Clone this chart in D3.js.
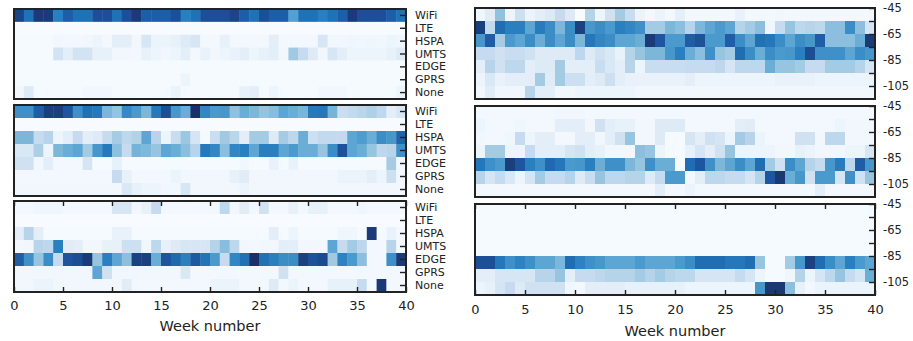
<!DOCTYPE html>
<html>
<head>
<meta charset="utf-8">
<script src="https://cdn.jsdelivr.net/npm/d3@7"></script>
<style>
  html, body { margin: 0; padding: 0; background: #ffffff; }
  svg { display: block; }
  text { font-family: "DejaVu Sans", sans-serif; fill: #222; }
</style>
</head>
<body>
<svg id="chart" width="913" height="341"></svg>
<script>
// ---------- data ----------
const weeks = [0,1,2,3,4,5,6,7,8,9,10,11,12,13,14,15,16,17,18,19,20,21,22,23,24,25,26,27,28,29,30,31,32,33,34,35,36,37,38,39];
const weekTicks = [0,5,10,15,20,25,30,35,40];
const netTypes = ["WiFi","LTE","HSPA","UMTS","EDGE","GPRS","None"];
const rssiBins = [-45,-55,-65,-75,-85,-95,-105];   // upper edge of each 10 dBm bin
const rssiTicks = [-45,-55,-65,-75,-85,-95,-105];
const rssiLabels = [-45,-65,-85,-105];

// colour ramp (value on 0-10 scale -> colour)
const rampStops  = [0, 1, 2.2, 3.4, 5, 5.5, 6.2, 7, 7.5, 8.2, 9, 10];
const rampColors = ["#f7fbff","#e3eef8","#c6dbef","#a3cbe3","#7cb7da","#6aaed6","#4b9acd","#2a7fbf","#2171b5","#1e55a0","#1b4585","#19306a"];

// share of time per network type and week (0-10 scale), three users
const netUser1 = [
  [9,7.5,9.5,9.5,7,8,7.5,7.5,8.5,8.5,7.5,8.5,9.5,8,8,8,8.5,7,7.5,8.5,8.5,8.5,9,8,7.5,8.5,8,8,6,7.5,7.5,7,7.5,8,9.5,8.5,8.5,8.5,8,7.5],
  [0,0,0,0,0,0,0,0,0,0,0,0,0,0,0,0,0,0,0,0,0,0,0,0,0,0,0,0,0,0,0,0,0,0,0,0,0,0,0,0],
  [0.1,0.1,0.1,0.1,0.3,0.2,0.2,0.3,0.5,0.2,1,1,0.3,1.5,0.6,0.6,0.8,1.2,1.5,0.2,0.2,0.8,0.2,0.2,0.2,0.2,1,0.2,0.2,0.2,0.2,1.5,0.3,0.3,0.4,0.3,0.4,0.3,0.5,0.4],
  [0.1,0.1,0.1,0.1,1.7,1,1.7,1.7,0.8,0.8,0.3,0.3,0.2,0.8,0.5,0.3,0.5,1,0.2,0.7,0.3,0.5,0.7,1,0.5,0.8,1,0.3,3.5,2.2,1.2,0.3,1.5,1,0.5,0.5,0.5,0.5,0.8,1.2],
  [0.1,0.1,0.1,0.1,0.1,0.1,0.1,0.1,0.1,0.1,0.1,0.1,0.1,0.1,0.1,0.1,0.1,0.1,0.1,0.1,0.1,0.1,0.1,0.1,0.1,0.1,0.1,0.1,0.1,0.1,0.1,0.1,0.1,0.1,0.1,0.1,0.1,0.1,0.1,0.1],
  [0.1,0.1,0.1,0.1,0.1,0.1,0.1,0.1,0.1,0.1,0.1,0.1,0.1,0.1,0.1,0.1,0.1,0.5,0.1,0.1,0.1,0.1,0.1,0.1,0.1,0.1,0.1,0.1,0.1,0.1,0.1,0.1,0.1,0.1,0.1,0.1,0.1,0.1,0.1,0.1],
  [0.3,1.2,0.1,0.1,0.1,0.1,0.1,0.3,0.3,0.3,0.1,0.1,0.1,0.1,0.1,0.1,0.6,0.1,0.1,0.1,0.1,0.1,0.1,0.8,1,0.1,0.5,0.1,0.1,0.1,0.1,0.3,0.3,0.3,0.1,0.1,0.1,0.1,0.1,0.5]
];
const netUser2 = [
  [6.5,6.5,8,9.3,9.3,8.2,6.5,7.5,7.2,5,4,6.7,6.2,5,7.2,8.5,6.3,5.5,10,6.8,6.2,6.3,4.2,5.5,5,4,4.5,5.8,5.5,5.1,7.2,7.3,5.2,2,2.3,2.6,3,2.4,1,1.5],
  [0,0,0,0,0,0,0,0,0,0,0,0,0,0,0,0,0,0,0,0,0,0,0,0,0,0,0,0,0,0,0,0,0,0,0,0,0,0,0,0],
  [5,5,2.2,2.7,0.5,1,2.2,1,1.2,2.2,3.3,2.5,2.9,5.8,2.7,0.5,2.1,3.7,1.6,0.1,2,3.5,2.6,1,3.4,3.4,1.2,3.3,2.5,5.5,1.9,2.3,2.3,2.3,5.8,6.1,5.5,6.6,6.3,7.8],
  [1.4,1.4,3.1,0.5,5,5.5,5.8,3.4,6.3,7.2,4.3,2.2,5.2,4.9,3.9,5.8,5.5,4.4,2.7,7.2,6.8,4.4,6.8,7,5.8,7,7,5.8,6.2,5.5,5.5,3.9,6.6,8.4,5.8,5.5,3.9,2.5,2.7,6.5],
  [1.8,1.8,0.3,1,0.2,0.2,0.2,1.6,0.1,0.1,0.8,0.1,0.1,0.1,0.1,0.1,0.1,0.1,0.1,0.1,0.1,0.1,0.1,0.3,0.1,0.1,0.7,0.1,0.7,0.1,0.1,0.1,0.1,0.1,0.1,0.1,0.1,0.1,3.3,0.2],
  [0.2,0.2,0.2,0.2,0.2,0.2,0.2,0.2,0.2,0.2,2.2,0.8,0.2,0.2,0.2,0.2,0.6,0.3,0.3,0.3,0.3,0.3,0.8,1.1,0.3,0.3,0.3,0.3,0.3,0.3,0.3,0.3,0.3,0.6,0.6,0.6,1,0.5,1.9,0.3],
  [0.3,0.3,0.3,0.3,0.3,0.3,0.3,0.3,0.3,0.3,0.3,1.4,0.8,0.5,0.5,0.3,0.3,1.5,0.3,0.3,0.3,0.3,0.3,0.6,0.3,0.3,0.3,0.3,0.3,0.3,0.3,0.3,0.3,0.3,0.3,0.3,0.3,0.3,0.3,0.3]
];
const netUser3 = [
  [0.2,0.2,0.4,0.4,0.4,0.2,0.2,0.2,0.2,0.2,1.5,1.5,0.3,0.8,2.2,0.2,0.2,0.2,0.2,0.2,0.3,2.5,0.3,1.1,0.2,1.8,0.2,0.2,0.8,0.2,0.8,0.8,0.2,0.2,0.2,0.4,0.2,0.2,0.2,0.2],
  [0,0,0,0,0,0,0,0,0,0,0,0,0,0,0,0,0,0,0,0,0,0,0,0,0,0,0,0,0,0,0,0,0,0,0,0,0,0,0,0],
  [1,2.7,1,0.1,0.1,0.1,0.1,0.1,0.1,0.1,0.7,0.7,0.1,0.1,0.1,0.1,0.1,0.1,0.1,0.1,0.1,0.1,0.1,0.1,0.1,0.1,1,0.1,0.5,0.1,0.1,0.1,0.1,0.4,0.4,0.1,9.5,0.1,0.7,0.2],
  [0.2,0.3,2.7,2.5,7,1.1,1,0.3,0.3,0.8,0.8,1.9,1.9,0.4,2.5,0.8,1.2,1.5,1.5,1.5,2.8,4.5,2.5,0.3,0.2,0.3,0.3,1,1,0.3,0.3,0.3,5.8,2.2,3.4,2.5,0.2,0.2,2.7,0.2],
  [8,6.5,3.9,6.6,2.2,8.3,8.6,9.5,3.9,7,5.8,4.4,9.2,9.2,5.5,8.3,7.7,7,8.1,7.4,6.2,2.2,6.8,7.5,10,7.5,7,6.6,6.6,9.2,8.4,8.7,3.5,6.9,6.2,4.4,0.2,0.2,6.5,9.5],
  [0.3,0.3,0.3,0.3,0.3,0.3,0.3,0.3,5.8,1.8,0.3,0.3,0.3,0.3,0.3,0.3,0.3,1.4,0.2,0.2,0.2,0.2,0.2,0.2,0.2,0.2,0.2,1.8,0.2,0.2,0.2,0.2,0.2,0.2,0.2,0.2,0.2,0.2,0.2,0.2],
  [0.3,0.3,0.6,0.6,0.3,0.3,0.3,0.3,0.3,0.3,0.3,1.1,0.2,0.2,0.2,0.2,0.2,0.2,0.2,0.2,0.6,0.6,0.6,0.2,0.2,0.2,1.2,0.2,0.6,0.2,0.2,0.2,0.8,0.8,0.8,2.2,0.2,9.6,0.2,0.2]
];

// share of time per signal-strength bin (dBm) and week (0-10 scale), three users
const rssiUser1 = [
  [0.4,1.1,4.2,0.5,1.9,0.6,1,1.3,2.2,1.3,0,2.8,0.5,1.8,3.4,2.1,0.6,0.2,0.6,0.2,0.9,0.2,0.2,0.2,0.2,0.2,0.7,0.2,0.2,0.2,0.3,0.2,0.2,0.2,0.2,0.2,0.2,0.2,0.2,0.2],
  [9.3,2.3,7.6,7,7,5.8,7.1,6.6,5,6.6,9.2,6.3,6.6,6.2,7,6.8,6.5,3.4,3.4,5,4.4,2.7,5,5.8,6.2,5.8,2.8,3.4,4.4,0.4,2.2,3.9,2.5,2.7,2.5,4.4,4.4,6.6,4.4,1.6],
  [6.3,8,3.3,6.2,5.8,6.6,5.5,6.6,5.8,6.6,5,7.3,6.8,6.6,5.8,5.8,5.5,9.5,8.2,6.2,6.2,8,8.4,6.2,6.2,8,6.6,5.8,7.5,7.3,6.6,5.8,6.6,6.3,8,4.4,4.4,4.4,5.5,9.5],
  [2.2,2.2,1.8,2.1,2.1,1.8,1.2,1.2,1.2,1.2,2.5,1.2,1.8,1.4,0.7,2.8,3.9,5,5,6.3,7,5.5,4.4,6.5,3.9,3.4,7.6,6.6,5.5,6.6,6.2,6.3,7,8.6,6.5,6.5,6.5,5.8,6.6,6.3],
  [1,2.7,1.8,2.5,2.5,1,1.2,1.2,3.4,1,1,1,2.1,1.4,1,2.7,0.5,2.1,2.1,2.1,2.1,2.2,2.2,2.2,2.5,1.6,2.5,2.5,2.5,5.5,3.9,3.9,3.4,2.2,2.2,3.4,3.4,3.4,2.8,1.6],
  [0.5,1.4,0.7,1,1,1,3.4,1.1,3.4,1.9,1.9,1,1.2,1.9,1,0.7,0.7,0.7,0.7,0.7,0.7,1,0.5,0.5,0.5,0.5,0.5,0.5,0.5,0.5,0.7,0.7,0.7,0.7,0.5,0.5,0.5,0.5,0.5,0.5],
  [0.3,1.1,0.4,0.4,0.4,2.7,1,1,0.3,0.3,0.5,0.5,0.5,0.5,0.5,0.5,0.3,0.3,0.3,0.3,0.3,0.3,0.3,0.3,0.3,0.3,0.3,0.3,0.3,0.3,0.3,0.3,0.3,0.3,0.3,0.3,0.3,0.3,0.3,0.3]
];
const rssiUser2 = [
  [0.2,0.2,0.2,0.2,0.2,0.2,0.2,0.2,0.3,0.3,0.3,0.2,0.2,0.2,0.2,0.2,0.2,0.2,0.2,0.2,0.2,0.2,0.2,0.2,0.2,0.2,0.2,0.2,0.2,0.2,0.2,0.2,0.2,0.2,0.2,0.2,0.2,0.2,0.2,0.2],
  [0.5,0.2,0.2,0.2,0.4,0.2,0.2,0.2,1,1,1,0.3,1.8,1,0.8,0.8,0.3,0.3,1.2,1.2,1.2,0.2,0.2,0.2,0.2,0.2,1,1.1,0.2,0.2,0.2,0.2,0.2,0.2,0.2,0.2,0.5,0.3,0.3,0.3],
  [0.3,0.2,0.2,0.4,2.2,0.5,1,1,0.2,0.2,1,1,0.3,1,1.8,3.9,0.3,0.3,1.2,0.1,0.1,1.6,1,1.8,1.6,0.5,3.4,2.7,0.6,0.2,0.2,0.2,1.8,1.8,0.3,2.5,2.5,0.3,0.3,0.3],
  [0.5,3.4,3.4,0.5,0.5,2.2,1,1,1,1.6,1.8,1,0.8,0.3,0.3,0.3,4.4,3.9,0.5,0.1,0.1,0.8,1.6,1,1.8,3.9,0.5,0.5,0.5,0.5,0.3,0.3,0.8,0.6,0.3,0.3,0.3,0.5,0.5,1.5],
  [7.3,6.5,6.2,9.3,8.2,7,6.5,7.7,7.3,6.2,6.3,7,5.5,6.5,6.5,5,3.9,6.5,5.5,5.5,0.1,7.6,8.2,6.5,5,5.8,6.6,5.8,7.6,3.4,1.8,6.6,5.8,2.8,2.2,6.3,7.1,2.5,8,6.3],
  [2.7,1.6,2.2,1.4,0.5,1.6,3.4,2.2,2.2,2.8,1.2,2.1,3.9,2.5,2.5,2.8,2.8,1.2,2.2,6.2,6.2,0.2,1,2.5,2.5,2.2,2.2,1.6,2.8,8.2,9.6,5.5,6.3,1.8,6.2,6.2,1.6,6.5,1.8,3.9],
  [0.2,0.2,0.2,0.2,0.2,0.2,0.2,0.2,0.2,0.2,0.2,0.2,0.2,0.2,0.2,0.2,0.2,0.2,1,0.2,0.2,0.6,0.2,0.2,0.2,0.2,0.2,0.2,0.2,0.2,0.2,0.2,0.2,0.2,1,0.2,0.2,0.2,0.2,0.2]
];
const rssiUser3 = [
  [0.1,0.1,0.1,0.1,0.1,0.1,0.1,0.1,0.1,0.1,0.1,0.1,0.1,0.1,0.1,0.1,0.1,0.1,0.1,0.1,0.1,0.1,0.1,0.1,0.1,0.1,0.1,0.1,0.1,0.1,0.1,0.1,0.1,0.1,0.1,0.1,0.1,0.1,0.1,0.1],
  [0.1,0.1,0.1,0.1,0.1,0.1,0.1,0.1,0.1,0.1,0.1,0.1,0.1,0.1,0.1,0.1,0.1,0.1,0.1,0.1,0.1,0.1,0.1,0.1,0.1,0.1,0.1,0.1,0.1,0.1,0.1,0.1,0.1,0.1,0.1,0.1,0.1,0.1,0.1,0.1],
  [0.1,0.1,0.1,0.1,0.1,0.1,0.1,0.1,0.1,0.1,0.1,0.1,0.1,0.1,0.1,0.1,0.1,0.1,0.1,0.1,0.1,0.1,0.1,0.1,0.1,0.1,0.1,0.1,0.1,0.1,0.1,0.1,0.1,0.1,0.1,0.1,0.1,0.1,0.1,0.1],
  [0.1,0.1,0.1,0.1,0.1,0.1,0.1,0.1,0.1,0.1,0.1,0.1,0.1,0.1,0.1,0.1,0.1,0.1,0.1,0.1,0.1,0.1,0.1,0.1,0.1,0.1,0.1,0.1,0.1,0.1,0.1,0.1,0.1,0.1,0.1,0.1,0.1,0.1,0.1,0.1],
  [8.5,8.5,7.3,6.5,6.9,6.5,5.8,5.8,5,7.6,6.9,6.5,6.3,5.8,5.8,5.8,6.2,5.8,5.8,5.8,6.2,6.6,7.6,7.6,7.6,7.3,7.3,7.6,3.9,0.1,0.1,3.4,6.3,9.2,7.6,6.6,5.8,7,6.2,5.8],
  [1,1,1.5,1.5,1.5,1.5,2.7,2.7,3.9,1,2.2,2.2,2.5,2.8,2.8,2.8,3.4,2.8,3.4,2.8,2.5,2.5,1.6,1.6,1.6,1.6,2.2,1.6,0.5,0.1,0.1,0.4,2.8,0.5,1.6,2.5,3.9,2.2,1.6,5.5],
  [0.5,0.8,1.6,2.2,1.2,1.8,1.8,1.8,1.8,0.4,0.2,1,1,1,1,0.8,0.8,0.8,0.8,0.8,0.8,0.5,0.5,0.5,0.5,0.5,0.5,0.5,6.3,9.6,9.6,4.4,0.8,0.2,0.6,0.6,0.6,0.6,0.6,0.6]
];

// ---------- drawing ----------
const svg = d3.select("#chart");
const color = d3.scaleLinear().domain(rampStops).range(rampColors)
  .interpolate(d3.interpolateRgb).clamp(true);
const INK = "#222";

const leftPanels = [
  {data: netUser1, y0: 9,   y1: 99,  bottom: false},
  {data: netUser2, y0: 105, y1: 196, bottom: false},
  {data: netUser3, y0: 201, y1: 292, bottom: true}
];
const rightPanels = [
  {data: rssiUser1, y0: 8,   y1: 99,  bottom: false},
  {data: rssiUser2, y0: 106, y1: 197, bottom: false},
  {data: rssiUser3, y0: 204, y1: 295, bottom: true}
];

function cells(g, data, x, rowY, rowH) {
  const flat = [];
  data.forEach((row, r) => row.forEach((v, c) => flat.push({r, c: weeks[c], v})));
  g.selectAll("rect.cell").data(flat).join("rect")
    .attr("class", "cell")
    .attr("x", d => x(d.c))
    .attr("y", d => rowY(d.r))
    .attr("width", d => x(d.c + 1) - x(d.c) + 0.4)
    .attr("height", d => rowH(d.r) + 0.4)
    .attr("fill", d => color(d.v));
}

function styleAxis(g, fontSize) {
  g.select(".domain").remove();
  g.selectAll(".tick line").attr("stroke", INK).attr("stroke-width", 1.4);
  g.selectAll(".tick text").attr("fill", INK).style("font-size", fontSize + "px")
    .style("font-family", "'DejaVu Sans', sans-serif");
}

function xAxes(g, x, y0, y1, pad) {
  const gb = g.append("g").attr("transform", `translate(0,${y1})`)
    .call(d3.axisBottom(x).tickValues(weekTicks).tickSizeInner(-5).tickSizeOuter(0).tickPadding(pad));
  styleAxis(gb, 13);
  const gt = g.append("g").attr("transform", `translate(0,${y0})`)
    .call(d3.axisTop(x).tickValues(weekTicks).tickSizeInner(-5).tickSizeOuter(0).tickFormat(""));
  styleAxis(gt, 13);
}

function frame(g, x0, x1, y0, y1) {
  g.append("rect").attr("x", x0).attr("y", y0).attr("width", x1 - x0).attr("height", y1 - y0)
    .attr("fill", "none").attr("stroke", INK).attr("stroke-width", 2);
}

// left column: network type
const LX0 = 14, LX1 = 406;
const xL = d3.scaleLinear().domain([0, 40]).range([LX0, LX1]);
leftPanels.forEach(p => {
  const g = svg.append("g");
  const y = d3.scaleBand().domain(netTypes).range([p.y0, p.y1]);
  cells(g, p.data, xL, r => y(netTypes[r]), () => y.bandwidth());
  const ga = g.append("g").attr("transform", `translate(${LX1},0)`)
    .call(d3.axisRight(y).tickSizeInner(-6).tickSizeOuter(0).tickPadding(9));
  styleAxis(ga, 11);
  if (p.bottom) xAxes(g, xL, p.y0, p.y1, 8.5);
  frame(g, LX0, LX1, p.y0, p.y1);
});
svg.append("text").attr("x", (LX0 + LX1) / 2).attr("y", 331)
  .attr("text-anchor", "middle").style("font-size", "14.5px").text("Week number");

// right column: signal strength
const RX0 = 475, RX1 = 875;
const xR = d3.scaleLinear().domain([0, 40]).range([RX0, RX1]);
rightPanels.forEach(p => {
  const g = svg.append("g");
  const y = d3.scaleLinear().domain([-45, -115]).range([p.y0, p.y1]);
  cells(g, p.data, xR, r => y(rssiBins[r]), r => y(rssiBins[r] - 10) - y(rssiBins[r]));
  const ga = g.append("g").attr("transform", `translate(${RX1},0)`)
    .call(d3.axisRight(y).tickValues(rssiTicks).tickSizeInner(-6).tickSizeOuter(0).tickPadding(8)
      .tickFormat(d => rssiLabels.includes(d) ? String(d) : ""));
  styleAxis(ga, 11.5);
  if (p.bottom) xAxes(g, xR, p.y0, p.y1, 9.5);
  frame(g, RX0, RX1, p.y0, p.y1);
});
svg.append("text").attr("x", (RX0 + RX1) / 2).attr("y", 336)
  .attr("text-anchor", "middle").style("font-size", "14.5px").text("Week number");
</script>
</body>
</html>
